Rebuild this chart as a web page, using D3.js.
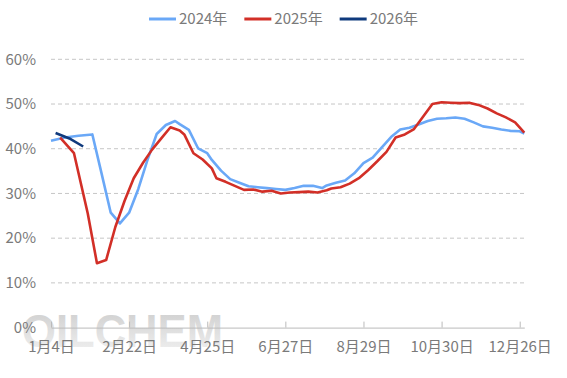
<!DOCTYPE html>
<html><head><meta charset="utf-8">
<script src="https://cdn.jsdelivr.net/npm/d3@7/dist/d3.min.js"></script>
<style>html,body{margin:0;padding:0;background:#fff;}svg{display:block;}</style>
</head><body>
<svg id="chart" width="567" height="378"></svg>
<script>
// ---- data ----
const seriesNames = ["2024年", "2025年", "2026年"];
const seriesColors = ["#6aa8f7", "#d22f27", "#0f3a7d"];

const dates2024 = ["01-04","01-11","01-18","01-25","02-01","02-08","02-15","02-22","02-29","03-07","03-14","03-21","03-28","04-03","04-11","04-18","04-25","05-01","05-09","05-16","05-23","05-30","06-06","06-13","06-20","06-27","07-04","07-11","07-18","07-25","07-31","08-08","08-15","08-22","08-29","09-05","09-12","09-19","09-26","10-03","10-10","10-17","10-24","10-31","11-07","11-14","11-21","11-28","12-05","12-12","12-19","12-26","12-31"];
const values2024 = [41.8,42.5,42.9,43.2,34.5,25.7,23.3,25.7,31.0,37.5,43.3,45.3,46.2,45.5,44.2,40.1,39.0,37.5,35.1,33.2,32.4,31.6,31.4,31.2,31.0,30.8,31.2,31.7,31.7,31.2,31.8,32.4,32.9,34.5,36.8,38.0,40.3,42.6,44.3,44.7,45.4,46.2,46.7,46.8,47.0,46.7,45.9,45.0,44.7,44.3,44.0,43.9,43.4];

const dates2025 = ["01-09","01-16","01-23","01-30","02-06","02-13","02-20","02-27","03-06","03-13","03-20","03-27","04-03","04-10","04-17","04-24","05-01","05-08","05-15","05-22","05-29","06-05","06-12","06-19","06-26","07-03","07-10","07-17","07-24","07-31","08-07","08-14","08-21","08-28","09-04","09-11","09-18","09-25","10-02","10-09","10-16","10-23","10-30","11-06","11-13","11-20","11-27","12-04","12-11","12-18","12-25","12-31"];
const values2025 = [42.5,39.0,25.5,14.4,15.1,22.5,28.3,33.4,36.8,39.8,42.3,44.8,44.1,43.2,39.0,37.6,35.6,33.4,32.6,31.7,30.8,30.9,30.4,30.6,30.0,30.2,30.3,30.4,30.2,30.7,31.1,31.4,32.2,33.4,35.2,37.2,39.3,42.5,43.2,44.4,47.2,50.0,50.4,50.3,50.2,50.3,49.8,49.0,47.9,47.0,45.9,43.6];

const dates2026 = ["01-08","01-15","01-22"];
const values2026 = [43.5,42.3,40.5];

const tickDates = ["01-04","02-22","04-25","06-27","08-29","10-30","12-26"];
const tickLabels = ["1月4日","2月22日","4月25日","6月27日","8月29日","10月30日","12月26日"];
const yTicks = [0,10,20,30,40,50,60];

// ---- build ----
const series = [
  {name: seriesNames[0], color: seriesColors[0], dates: dates2024, values: values2024},
  {name: seriesNames[1], color: seriesColors[1], dates: dates2025, values: values2025},
  {name: seriesNames[2], color: seriesColors[2], dates: dates2026, values: values2026}
];
const categories = Array.from(new Set([].concat(dates2024, dates2025, dates2026))).sort();

const svg = d3.select("#chart");
const font = "'Noto Sans CJK SC', 'Noto Sans', sans-serif";
const plotLeft = 51, plotRight = 524.3, plotTop = 59.3, plotBottom = 327.6;

const x = d3.scalePoint().domain(categories).range([plotLeft, plotRight]);
const y = d3.scaleLinear().domain([0, 60]).range([plotBottom, plotTop]);

// watermark
const defs = svg.append("defs");
const grad = defs.append("linearGradient").attr("id","wm").attr("x1",0).attr("y1",0).attr("x2",0).attr("y2",1);
grad.append("stop").attr("offset","0%").attr("stop-color","#cbcbcb");
grad.append("stop").attr("offset","100%").attr("stop-color","#f3f3f3");
svg.append("text").attr("x", 22).attr("y", 347)
  .attr("font-family","'Liberation Sans', Arial, sans-serif").attr("font-weight","bold")
  .attr("font-size", 47).attr("textLength", 201).attr("lengthAdjust","spacingAndGlyphs")
  .attr("fill","url(#wm)").text("OILCHEM");

// grid
svg.append("g").selectAll("line").data(yTicks.filter(d => d > 0)).join("line")
  .attr("x1", plotLeft).attr("x2", plotRight)
  .attr("y1", d => y(d)).attr("y2", d => y(d))
  .attr("stroke", "#c6c6c6").attr("stroke-width", 1).attr("stroke-dasharray", "4,3");

// y labels
svg.append("g").selectAll("text").data(yTicks).join("text")
  .attr("x", 36).attr("y", d => y(d)).attr("dy", "0.35em")
  .attr("text-anchor", "end").attr("font-family", font).attr("font-size", 15)
  .attr("fill", "#7a7a7a").text(d => d + "%");

// x axis
const xAxis = d3.axisBottom(x).tickValues(tickDates)
  .tickFormat(d => tickLabels[tickDates.indexOf(d)]).tickSizeInner(-6).tickSizeOuter(0).tickPadding(14);
const gx = svg.append("g").attr("transform", `translate(0,${plotBottom})`).call(xAxis);
gx.select(".domain").attr("stroke", "#bbbbbb");
gx.selectAll(".tick line").attr("stroke", "#bbbbbb");
gx.selectAll(".tick text").attr("font-family", font).attr("font-size", 15).attr("fill", "#7a7a7a");

// lines
const line = d3.line().x(d => x(d[0])).y(d => y(d[1]));
series.forEach(s => {
  svg.append("path").datum(s.dates.map((d, i) => [d, s.values[i]]))
    .attr("d", line).attr("fill", "none").attr("stroke", s.color)
    .attr("stroke-width", 2.6).attr("stroke-linejoin", "round").attr("stroke-linecap", "butt");
});

// legend
const lg = svg.append("g");
const items = lg.selectAll("g").data(series).join("g");
items.append("line").attr("x1", 0).attr("x2", 27).attr("y1", 0).attr("y2", 0)
  .attr("stroke", d => d.color).attr("stroke-width", 3);
items.append("text").attr("x", 30).attr("y", 0).attr("dy", "0.35em")
  .attr("font-family", font).attr("font-size", 15).attr("fill", "#7a7a7a").text(d => d.name);
let cx = 0;
items.each(function() {
  const w = this.getBBox().width;
  d3.select(this).attr("transform", `translate(${cx},19)`);
  cx += w + 17;
});
const totalW = cx - 17;
lg.attr("transform", `translate(${(567 - totalW) / 2},0)`);
</script>
</body></html>
